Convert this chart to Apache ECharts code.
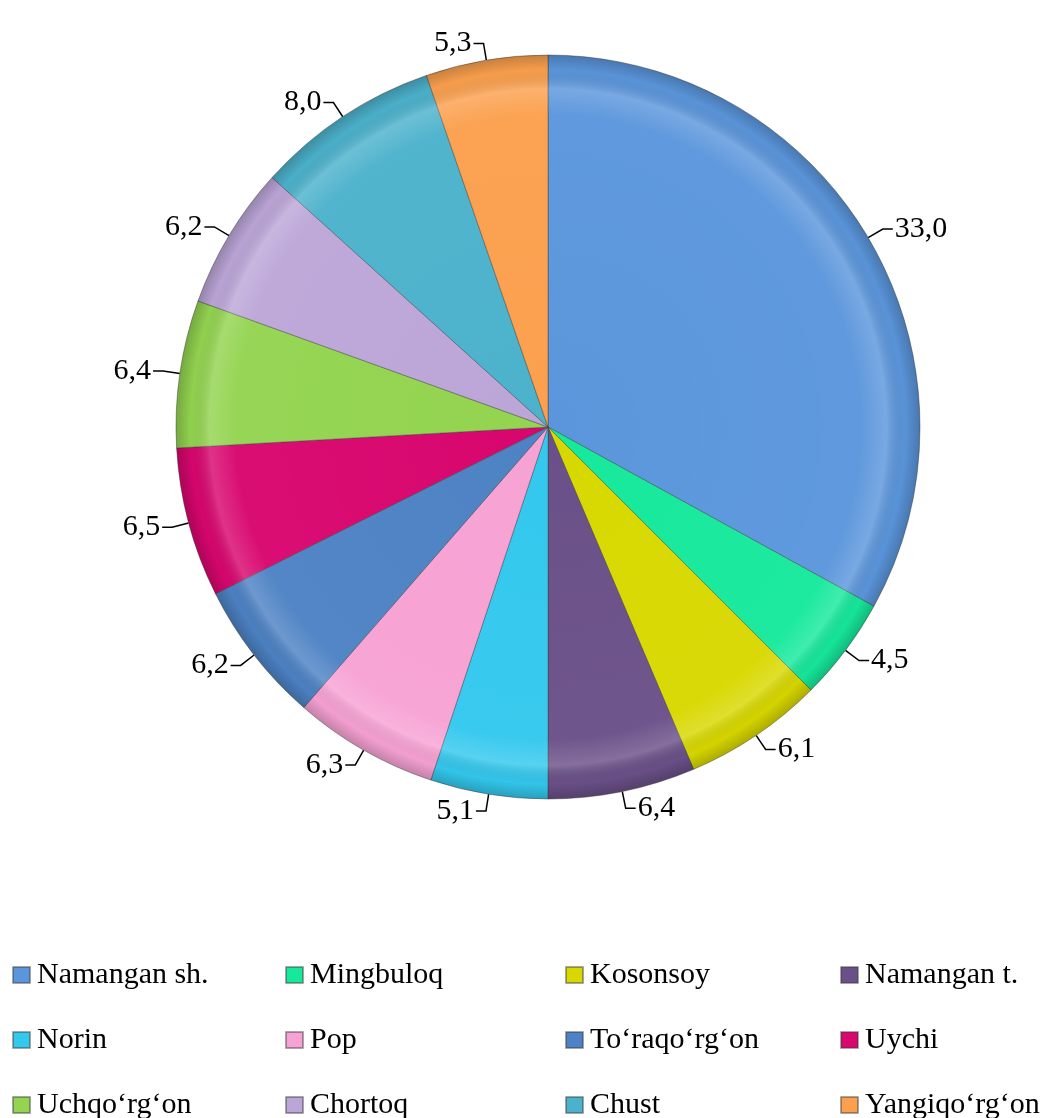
<!DOCTYPE html>
<html>
<head>
<meta charset="utf-8">
<script src="https://cdn.jsdelivr.net/npm/echarts@6/dist/echarts.min.js"></script>
<style>
  html, body { margin: 0; padding: 0; background: #fff; }
  #chart { width: 1056px; height: 1118px; }
</style>
</head>
<body>
<div id="chart"></div>
<script>
// tumanlar va ulushlar (%)
const districts = ['Namangan sh.', 'Mingbuloq', 'Kosonsoy', 'Namangan t.', 'Norin', 'Pop',
  'To‘raqo‘rg‘on', 'Uychi', 'Uchqo‘rg‘on', 'Chortoq', 'Chust', 'Yangiqo‘rg‘on']
const shares = [33.0, 4.5, 6.1, 6.4, 5.1, 6.3, 6.2, 6.5, 6.4, 6.2, 8.0, 5.3]
const colors = ['#5b96dc', '#16e99c', '#d8d800', '#6a5088', '#33c8ee', '#f7a2d4',
  '#4d82c4', '#d8066e', '#93d450', '#bca6d8', '#4cb2cc', '#fba04e']

const font = '"Times New Roman", "Liberation Serif", serif'
const cx = 548, cy = 427, r = 372

const chart = echarts.init(document.getElementById('chart'))

// legend: 4 ustun, har birida 3 ta
const legendCols = [12, 285, 565, 840].map((left, col) => ({
  orient: 'vertical',
  left: left,
  top: 960,
  width: 216,
  height: 220,
  padding: 0,
  itemWidth: 17,
  itemHeight: 16,
  itemGap: 35,
  icon: 'rect',
  selectedMode: false,
  data: [0, 1, 2].map(row => districts[row * 4 + col]),
  textStyle: { fontFamily: font, fontSize: 30, color: '#000', lineHeight: 26, padding: [0, 0, 0, 2] }
}))

chart.setOption({
  animation: false,
  legend: legendCols,
  series: [
    {
      type: 'pie',
      center: [cx, cy],
      radius: [0, r],
      startAngle: 90,
      clockwise: true,
      data: districts.map((name, i) => ({ name: name, value: shares[i] })),
      itemStyle: {
        color: p => colors[p.dataIndex],
        borderColor: 'rgba(60,60,60,0.45)',
        borderWidth: 1
      },
      label: {
        show: true,
        position: 'outside',
        formatter: p => p.value.toFixed(1).replace('.', ','),
        fontFamily: font,
        fontSize: 30,
        color: '#000',
        distanceToLabelLine: 2
      },
      labelLine: {
        show: true,
        length: 17,
        length2: 10,
        lineStyle: { color: '#000', width: 1.5 }
      }
    },
    {
      // bevel effekti uchun ustki qatlam
      type: 'pie',
      silent: true,
      center: [cx, cy],
      radius: [0, r],
      label: { show: false },
      labelLine: { show: false },
      data: [{ value: 1, name: '' }],
      itemStyle: {
        color: new echarts.graphic.RadialGradient(cx, cy, r, [
          { offset: 0, color: 'rgba(255,255,255,0)' },
          { offset: 0.84, color: 'rgba(255,255,255,0.03)' },
          { offset: 0.91, color: 'rgba(255,255,255,0.18)' },
          { offset: 0.96, color: 'rgba(0,0,0,0.02)' },
          { offset: 1, color: 'rgba(0,0,0,0.2)' }
        ], true)
      }
    }
  ]
})
</script>
</body>
</html>
